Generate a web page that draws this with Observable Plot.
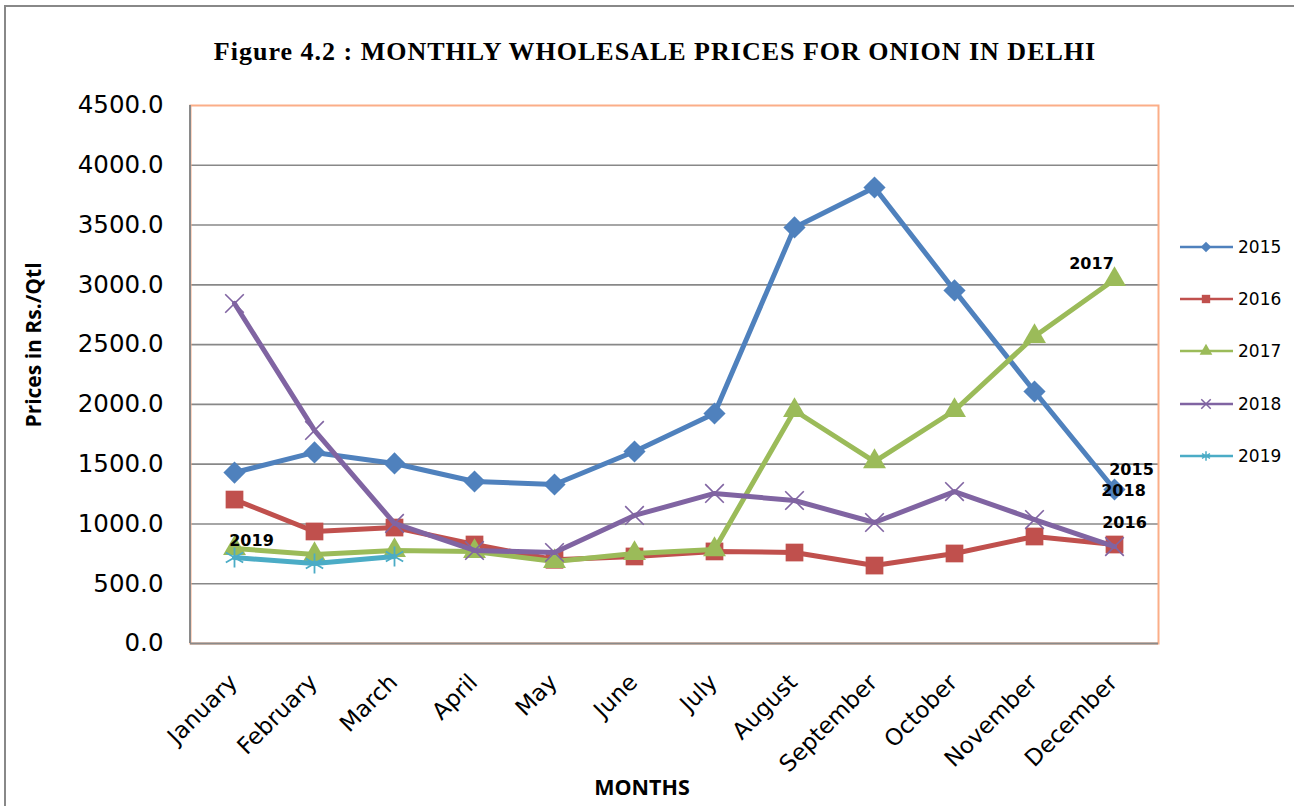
<!DOCTYPE html>
<html><head><meta charset="utf-8">
<script src="https://cdn.jsdelivr.net/npm/d3@7"></script>
<script src="https://cdn.jsdelivr.net/npm/@observablehq/plot@0.6"></script>
<style>
html,body{margin:0;padding:0;background:#fff;}
#wrap{position:relative;width:1294px;height:806px;overflow:hidden;font-family:"DejaVu Sans",sans-serif;background:#fff;}
#chart{position:absolute;left:0;top:0;}
#border{position:absolute;left:4px;top:5px;width:1300px;height:820px;border-left:2px solid #888;border-top:2px solid #888;pointer-events:none;}
#title{position:absolute;left:0;width:1310px;top:37px;text-align:center;font-family:"Liberation Serif",serif;font-weight:bold;font-size:26px;letter-spacing:1px;color:#000;white-space:nowrap;}
#ylab{position:absolute;left:33px;top:345px;transform:translate(-50%,-50%) rotate(-90deg);font-family:"Open Sans",sans-serif;font-weight:bold;font-size:21px;white-space:nowrap;color:#000;}
#xlab{position:absolute;left:642px;top:786px;transform:translate(-50%,-50%);font-family:"Open Sans",sans-serif;font-weight:bold;font-size:21.5px;white-space:nowrap;color:#000;}
#legend{position:absolute;left:0;top:0;}
</style></head>
<body>
<div id="wrap">
  <div id="chart"></div>
  <div id="title">Figure 4.2 : MONTHLY WHOLESALE PRICES FOR ONION IN DELHI</div>
  <div id="ylab">Prices in Rs./Qtl</div>
  <div id="xlab">MONTHS</div>
  <div id="legend"></div>
  <div id="border"></div>
</div>
<script>
const months = ["January","February","March","April","May","June","July","August","September","October","November","December"];
const years = ["2015","2016","2017","2018","2019"];
const colors = ["#4F81BD","#C0504D","#9BBB59","#8064A2","#4BACC6"];
const p2015 = [1430,1598,1506,1355,1330,1606,1924,3480,3814,2953,2108,1288];
const p2016 = [1204,937,970,828,700,728,770,761,652,753,895,828];
const p2017 = [795,744,778,770,686,753,786,1949,1522,1949,2568,3045];
const p2018 = [2844,1782,1004,778,761,1071,1255,1196,1012,1271,1037,811];
const p2019 = [719,669,728];
const yTicks = [0,500,1000,1500,2000,2500,3000,3500,4000,4500];

const series = {"2015":p2015,"2016":p2016,"2017":p2017,"2018":p2018,"2019":p2019};
const rows = years.flatMap(y => series[y].map((v,i) => ({year:y, month:months[i], value:v})));

const symbolStyle = [
  {symbol:"diamond2", r:10, fill:colors[0], stroke:"none"},
  {symbol:"square", r:10, fill:colors[1], stroke:"none"},
  {symbol:"triangle", r:8.5, fill:colors[2], stroke:"none"},
  {symbol:"times", r:8.5, fill:"none", stroke:colors[3], strokeWidth:1.6},
  {symbol:"asterisk", r:9.5, fill:"none", stroke:colors[4], strokeWidth:1.8}
];

const marks = [];
marks.push(Plot.ruleY(yTicks.filter(t => t > 0 && t < 4500), {stroke:"#888", strokeWidth:1.6}));
marks.push(Plot.frame({stroke:"#FBAE88", strokeWidth:2}));
marks.push(Plot.ruleY([0], {stroke:"#8a8a8a", strokeWidth:2}));
marks.push((index, scales, values, dims) => {
  const l = d3.create("svg:line")
    .attr("x1", dims.marginLeft).attr("x2", dims.marginLeft)
    .attr("y1", dims.marginTop).attr("y2", dims.height - dims.marginBottom)
    .attr("stroke", "#8a8a8a").attr("stroke-width", 2);
  return l.node();
});
years.forEach((y, i) => {
  const d = rows.filter(r => r.year === y);
  marks.push(Plot.line(d, {x:"month", y:"value", stroke:colors[i], strokeWidth:5, strokeLinejoin:"round"}));
  marks.push(Plot.dot(d, {x:"month", y:"value", ...symbolStyle[i]}));
});

const labelFor = (year, month) => rows.filter(r => r.year === year && r.month === month);
const labelStyle = {x:"month", y:"value", text:"year", fontSize:16, fontWeight:"bold", fill:"#000", fontFamily:"DejaVu Sans"};
marks.push(Plot.text(labelFor("2017","December"), {...labelStyle, dx:-23, dy:-16}));
marks.push(Plot.text(labelFor("2015","December"), {...labelStyle, dx:17, dy:-20}));
marks.push(Plot.text(labelFor("2018","December"), {...labelStyle, dx:9, dy:-56}));
marks.push(Plot.text(labelFor("2016","December"), {...labelStyle, dx:10, dy:-22}));
marks.push(Plot.text(labelFor("2019","January"), {...labelStyle, dx:17, dy:-17}));

marks.push(Plot.axisY(yTicks, {anchor:"left", tickSize:0, tickPadding:27, tickFormat:d3.format(".1f"), fontSize:24.5, label:null}));
marks.push(Plot.axisX({anchor:"bottom", tickSize:0, tickPadding:35, tickRotate:-45, fontSize:23, dx:-1, label:null}));

const chart = Plot.plot({
  width:1294, height:806,
  marginTop:105, marginBottom:163, marginLeft:190, marginRight:136,
  style:{fontFamily:"DejaVu Sans", fontSize:"21px", color:"#000", background:"transparent", overflow:"visible"},
  x:{type:"point", domain:months, padding:0.5},
  y:{domain:[0,4500]},
  marks
});
document.getElementById("chart").appendChild(chart);

// Legend
const leg = d3.create("svg").attr("width",1294).attr("height",806).style("position","absolute").style("left","0").style("top","0");
const legY = [247,299,351,404,456];
const d3sym = [d3.symbolDiamond2, d3.symbolSquare, d3.symbolTriangle, d3.symbolTimes, d3.symbolAsterisk];
years.forEach((y, i) => {
  const g = leg.append("g").attr("transform", `translate(0,${legY[i]})`);
  g.append("line").attr("x1",1180).attr("x2",1233).attr("y1",0).attr("y2",0).attr("stroke",colors[i]).attr("stroke-width",2.5);
  const filled = i < 3;
  g.append("path").attr("transform","translate(1206,0)").attr("d", d3.symbol(d3sym[i], filled ? 70 : 60)())
    .attr("fill", filled ? colors[i] : "none").attr("stroke", filled ? "none" : colors[i]).attr("stroke-width",1.5);
  g.append("text").attr("x",1238).attr("y",6).attr("font-family","DejaVu Sans").attr("font-size",17).attr("fill","#000").text(y);
});
document.getElementById("legend").appendChild(leg.node());
</script>
</body></html>
